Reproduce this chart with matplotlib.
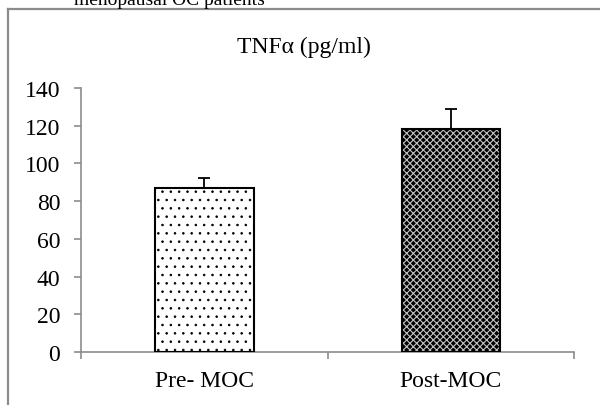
import matplotlib
matplotlib.use("Agg")
import matplotlib.pyplot as plt
from matplotlib.lines import Line2D
import numpy as np

# values
groups = ["Pre- MOC", "Post-MOC"]
tnf_mean = [87, 118]
tnf_err = [5, 11]
y_ticks = [0, 20, 40, 60, 80, 100, 120, 140]

plt.rcParams["font.family"] = ["Liberation Serif", "DejaVu Serif"]

fig = plt.figure(figsize=(6.0, 4.06), dpi=100)
ax = fig.add_axes([0.135, 0.1305, 0.822, 0.6505])

x = np.arange(len(groups))
grey = "#8c8c8c"


def hatch_lw(bars, lw):
    for b in bars:
        if hasattr(b, "set_hatch_linewidth"):
            b.set_hatch_linewidth(lw)


# pre: white with small dots
with plt.rc_context({"hatch.linewidth": 0.6}):
    pre = ax.bar(x[0], tnf_mean[0], width=0.4, color="white", edgecolor="black",
                 hatch="..", linewidth=0, zorder=2)
hatch_lw(pre, 0.6)
# post: dark checker pattern
with plt.rc_context({"hatch.linewidth": 0.8}):
    post = ax.bar(x[1], tnf_mean[1], width=0.4, color="black", edgecolor="#c4c4c4",
                  hatch="xxxxx", linewidth=0, zorder=2)
hatch_lw(post, 0.8)
ax.bar(x, tnf_mean, width=0.4, color="none", edgecolor="black",
       linewidth=1.5, zorder=3)

ax.errorbar(x, tnf_mean, yerr=[[0, 0], tnf_err], fmt="none", ecolor="black",
            elinewidth=1.3, capsize=4.5, capthick=1.3, zorder=4)

ax.set_xlim(-0.5, 1.5)
ax.set_ylim(0, 140)
ax.set_yticks(y_ticks)
ax.set_xticks(x)
ax.set_xticklabels(groups)
ax.set_xticks([-0.5, 0.5, 1.5], minor=True)

for s in ["top", "right"]:
    ax.spines[s].set_visible(False)
for s in ["left", "bottom"]:
    ax.spines[s].set_color(grey)
    ax.spines[s].set_linewidth(1.2)

ax.tick_params(axis="y", direction="out", length=5, width=1.2, color=grey,
               labelsize=17, pad=10)
ax.tick_params(axis="x", which="major", length=0, labelsize=17, pad=13)
ax.tick_params(axis="x", which="minor", direction="out", length=5, width=1.2,
               color=grey)

fig.text(0.507, 0.870, "TNFα (pg/ml)", ha="center", va="baseline", fontsize=17)
fig.text(0.283, 0.988, "menopausal OC patients", ha="center", va="baseline",
         fontsize=14)

# outer frame of the figure box (cut off at right and bottom)
fig.add_artist(Line2D([0.0135, 0.0135], [0.0, 0.976], transform=fig.transFigure,
                      color=grey, linewidth=1.6))
fig.add_artist(Line2D([0.0135, 1.0], [0.976, 0.976], transform=fig.transFigure,
                      color=grey, linewidth=1.6))

fig.savefig("out.png", dpi=100)
